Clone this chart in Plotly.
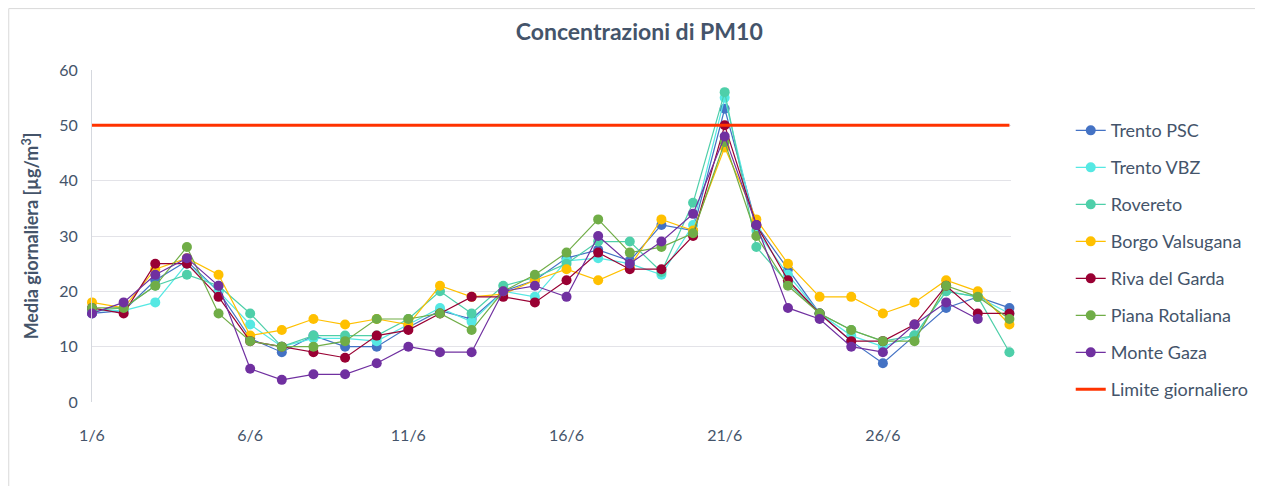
import plotly.graph_objects as go

days = list(range(1, 31))
tick_days = [1, 6, 11, 16, 21, 26]
tick_labels = ["1/6", "6/6", "11/6", "16/6", "21/6", "26/6"]

trento_psc = [16, 16.5, 22, 25.5, 20, 11.5, 9, 12, 10, 10, 13.5, 16.5, 15, 20, 22,
              26, 27.5, 25.5, 32, 31, 53, 32, 24, 16, 11, 7, 12, 17, 19, 17]
trento_vbz = [16.5, 16.5, 18, 25, 20, 14, 10, 11.5, 11.5, 11, 14, 17, 14.5, 20, 19,
              25.5, 26, 25, 23, 32, 55, 31, 23, 16, 12, 10, 12, 20, 19, 16]
rovereto = [16.5, 17, 21, 23, 21, 16, 10, 12, 12, 12, 15, 20, 16, 21, 22.5,
            25, 29, 29, 23.5, 36, 56, 28, 21.5, 16, 13, 11, 12, 20, 19, 9]
borgo = [18, 17, 24, 26, 23, 12, 13, 15, 14, 15, 14, 21, 19, 19.5, 22,
         24, 22, 24.5, 33, 31, 46, 33, 25, 19, 19, 16, 18, 22, 20, 14]
riva = [17, 16, 25, 25, 19, 11, 10, 9, 8, 12, 13, 16, 19, 19, 18,
        22, 27, 24, 24, 30, 50, 32, 22, 16, 11, 11, 14, 21, 16, 16]
piana = [17, 17, 21, 28, 16, 11, 10, 10, 11, 15, 15, 16, 13, 20, 23,
         27, 33, 27, 28, 30.5, 47, 30, 21, 16, 13, 11, 11, 21, 19, 15]
monte_gaza = [16, 18, 23, 26, 21, 6, 4, 5, 5, 7, 10, 9, 9, 20, 21,
              19, 30, 25, 29, 34, 48, 32, 17, 15, 10, 9, 14, 18, 15, None]
limite = [50] * 30

series_names = ["Trento PSC", "Trento VBZ", "Rovereto", "Borgo Valsugana",
                "Riva del Garda", "Piana Rotaliana", "Monte Gaza"]
series_values = [trento_psc, trento_vbz, rovereto, borgo, riva, piana, monte_gaza]
series_colors = ["#4472C4", "#55E8E3", "#4ECFA9", "#FFC000", "#990033", "#70AD47", "#7030A0"]

TXT = "#44546A"
FONT = "Lato, 'Open Sans', sans-serif"

fig = go.Figure()
for name, vals, col in zip(series_names, series_values, series_colors):
    fig.add_trace(go.Scatter(
        x=days, y=vals, name=name, mode="lines+markers",
        line=dict(color=col, width=1.2),
        marker=dict(color=col, size=10),
        cliponaxis=False, legendgroup=name,
    ))
fig.add_trace(go.Scatter(
    x=days, y=limite, name="Limite giornaliero", mode="lines",
    line=dict(color="#FF3300", width=3), legendgroup="lim",
))

fig.update_layout(
    width=1255, height=478,
    paper_bgcolor="white", plot_bgcolor="white",
    margin=dict(l=84, r=252, t=62, b=84, autoexpand=False),
    font=dict(family=FONT, color=TXT, size=15),
    title=dict(text="<b>Concentrazioni di PM10</b>", x=0.503, xanchor="center",
               y=1 - 24 / 478, yref="container", yanchor="middle",
               font=dict(size=23, color=TXT, family=FONT)),
    showlegend=True,
    legend=dict(x=1.065, xanchor="left", y=0.873, yanchor="top",
                font=dict(size=18, color=TXT, family=FONT),
                tracegroupgap=10.6, bgcolor="rgba(0,0,0,0)"),
    xaxis=dict(range=[1, 30.05], tickvals=tick_days, ticktext=tick_labels,
               showgrid=False, zeroline=False, showline=False,
               ticks="", ticklabelstandoff=22,
               tickfont=dict(size=16, color=TXT)),
    yaxis=dict(range=[0, 60], dtick=10, showgrid=True, gridcolor="#E3E3E8",
               gridwidth=1, zeroline=False, showline=True, linecolor="#D5D8DE",
               ticks="", ticklabelstandoff=10, tickfont=dict(size=16, color=TXT),
               title=dict(text="<b>Media giornaliera [µg/m<sup>3</sup>]</b>",
                          font=dict(size=18, color=TXT), standoff=15)),
    shapes=[dict(type="rect", xref="paper", yref="paper",
                 x0=-0.0906, x1=1.272, y0=-0.3, y1=1.185,
                 line=dict(color="#D9D9D9", width=1), layer="below")],
)

fig.write_html("out.html")
